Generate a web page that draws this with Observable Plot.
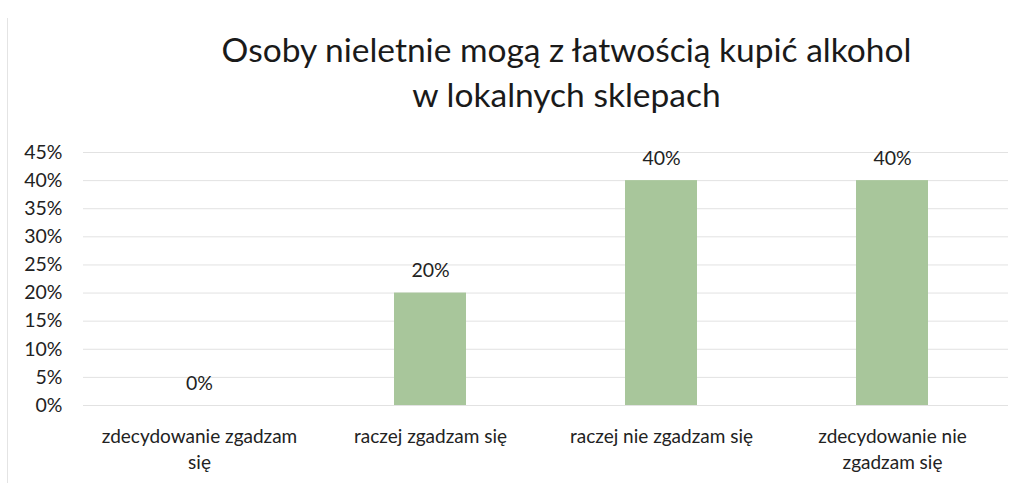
<!DOCTYPE html>
<html>
<head>
<meta charset="utf-8">
<script src="https://cdn.jsdelivr.net/npm/d3@7"></script>
<script src="https://cdn.jsdelivr.net/npm/@observablehq/plot@0.6"></script>
<style>
  html, body { margin: 0; padding: 0; background: #fff; }
  #wrap { position: relative; width: 1019px; height: 483px; overflow: hidden; font-family: Lato, "Open Sans", sans-serif; }
  #frame { position: absolute; left: 7px; top: 18px; width: 1px; height: 465px; background: #e4e4e4; }
  #title { position: absolute; left: 0; top: 27px; width: 1019px; text-align: center; font-size: 33.5px; line-height: 45px; color: #1a1a1a; padding-left: 114px; box-sizing: border-box; }
  #chart { position: absolute; left: 0; top: 135px; }
</style>
</head>
<body>
<div id="wrap">
  <div id="frame"></div>
  <div id="title">Osoby nieletnie mogą z łatwością kupić alkohol<br>w lokalnych sklepach</div>
  <div id="chart"></div>
</div>
<script>
const categories = ["zdecydowanie zgadzam się", "raczej zgadzam się", "raczej nie zgadzam się", "zdecydowanie nie zgadzam się"];
const tickLabels = ["zdecydowanie zgadzam\nsię", "raczej zgadzam się", "raczej nie zgadzam się", "zdecydowanie nie\nzgadzam się"];
const values = [0, 0.20, 0.40, 0.40];
const yTicks = [0, 0.05, 0.10, 0.15, 0.20, 0.25, 0.30, 0.35, 0.40, 0.45];

const data = categories.map((c, i) => ({category: c, value: values[i], label: tickLabels[i]}));
const fmt = d => Math.round(d * 100) + "%";

const chart = Plot.plot({
  width: 1019,
  height: 348,
  marginLeft: 83,
  marginRight: 11,
  marginTop: 17,
  marginBottom: 78,
  style: {fontFamily: "Lato, 'Open Sans', sans-serif", fontSize: "19px", color: "#222", background: "transparent"},
  x: {domain: categories, paddingInner: 0.69, paddingOuter: 0.34, label: null},
  y: {domain: [0, 0.45], ticks: yTicks, label: null},
  marks: [
    Plot.gridY(yTicks, {stroke: "#e2e2e2", strokeOpacity: 1, strokeWidth: 1}),
    Plot.axisY(yTicks, {tickFormat: fmt, tickSize: 0, tickPadding: 21, fontSize: 19.5, fill: "#222"}),
    Plot.axisX({tickSize: 0, tickPadding: 19, fontSize: 19, fill: "#222", tickFormat: d => tickLabels[categories.indexOf(d)], lineHeight: 1.37}),
    Plot.barY(data, {x: "category", y: "value", fill: "#a8c69b"}),
    Plot.text(data, {x: "category", y: "value", text: d => fmt(d.value), lineAnchor: "bottom", dy: -16, fontSize: 19.5, fill: "#222"})
  ]
});
document.getElementById("chart").appendChild(chart);
</script>
</body>
</html>
